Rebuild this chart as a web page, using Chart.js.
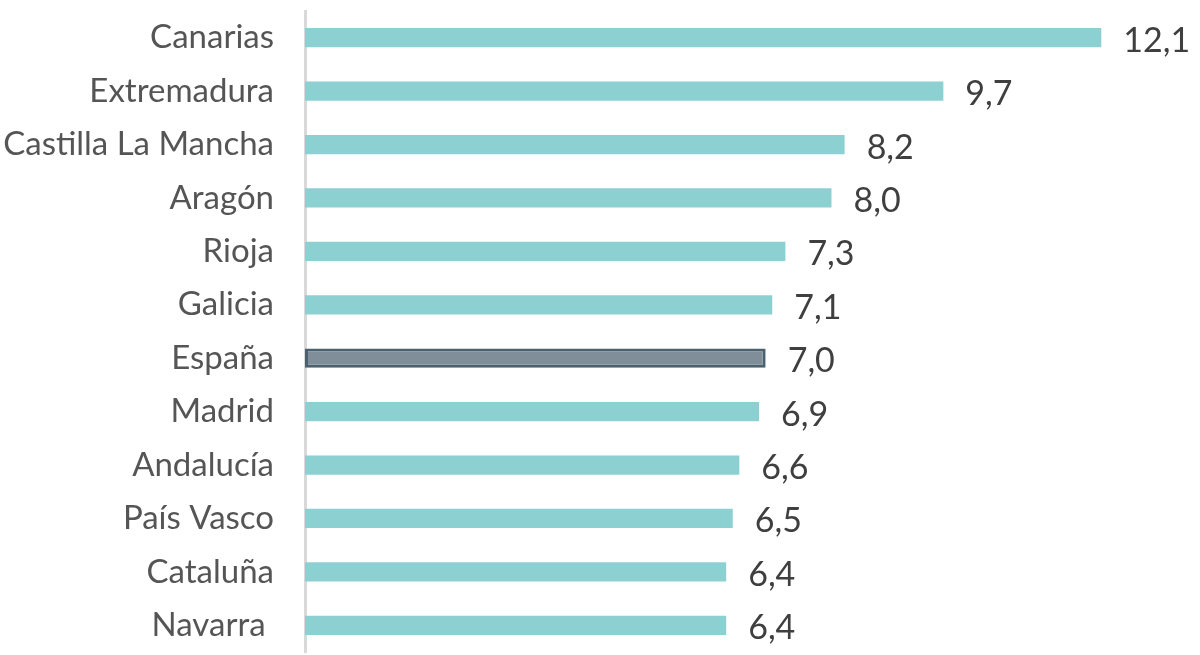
<!DOCTYPE html>
<html>
<head>
<meta charset="utf-8">
<script src="https://cdn.jsdelivr.net/npm/chart.js@4"></script>
<style>
  body { margin: 0; background: #fff; }
  #wrap { width: 1200px; height: 655px; position: relative; }
</style>
</head>
<body>
<div id="wrap"><canvas id="regionChart"></canvas></div>
<script>
// Regions and their values
const regions = ['Canarias', 'Extremadura', 'Castilla La Mancha', 'Aragón', 'Rioja', 'Galicia',
                 'España', 'Madrid', 'Andalucía', 'País Vasco', 'Cataluña', 'Navarra '];
const values = [12.1, 9.7, 8.2, 8.0, 7.3, 7.1, 7.0, 6.9, 6.6, 6.5, 6.4, 6.4];
const highlight = 'España';

const teal = '#8dd0d1';
const fills = regions.map(r => r === highlight ? '#7f8e98' : teal);
const borders = regions.map(r => r === highlight ? '#4b6170' : teal);
const borderWidths = regions.map(r => r === highlight ? 3 : 0);

// Draw the value next to each bar, with a comma as decimal mark
const valueLabels = {
    id: 'valueLabels',
    afterDatasetsDraw(chart) {
        const ctx = chart.ctx;
        const meta = chart.getDatasetMeta(0);
        ctx.save();
        ctx.font = '34px Lato';
        ctx.fillStyle = '#3f3f3f';
        ctx.textAlign = 'left';
        ctx.textBaseline = 'middle';
        meta.data.forEach((bar, i) => {
            const txt = values[i].toFixed(1).replace('.', ',');
            ctx.fillText(txt, bar.x + 22, bar.y + 3);
        });
        ctx.restore();
    }
};

const ctx = document.getElementById('regionChart').getContext('2d');
const regionChart = new Chart(ctx, {
    type: 'bar',
    data: {
        labels: regions,
        datasets: [{
            data: values,
            backgroundColor: fills,
            borderColor: borders,
            borderWidth: borderWidths,
            borderSkipped: false,
            categoryPercentage: 1,
            barPercentage: 0.36
        }]
    },
    options: {
        indexAxis: 'y',
        responsive: true,
        maintainAspectRatio: false,
        animation: false,
        layout: { padding: { top: 11, bottom: 3, left: 0, right: 0 } },
        scales: {
            x: {
                display: false,
                min: 0,
                max: 13.6
            },
            y: {
                // fixed axis width, and no extra room above/below for labels
                afterFit: scale => {
                    scale.width = 305;
                    scale.paddingTop = 0;
                    scale.paddingBottom = 0;
                },
                grid: { display: false, drawTicks: false },
                border: { display: true, color: '#d9d9d9', width: 3 },
                ticks: {
                    padding: 31,
                    color: '#555',
                    font: { family: 'Lato', size: 33 }
                }
            }
        },
        plugins: {
            legend: { display: false },
            tooltip: { enabled: false }
        }
    },
    plugins: [valueLabels]
});
</script>
</body>
</html>
